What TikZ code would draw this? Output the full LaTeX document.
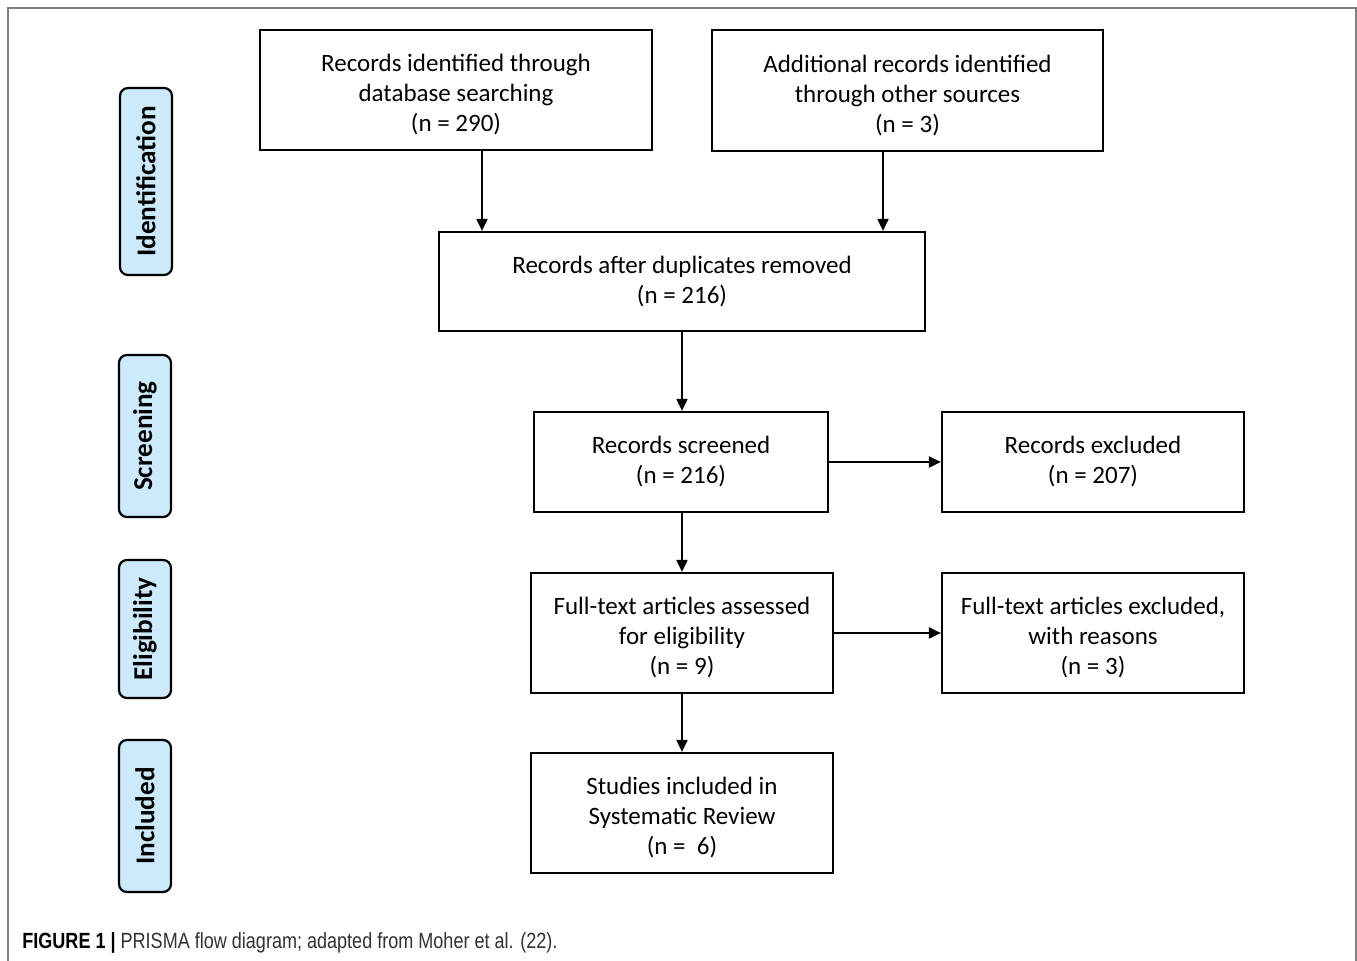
\documentclass[tikz,border=0pt]{standalone}
\usepackage{fontspec}
\setmainfont{Carlito}
\newfontfamily\capfont[FakeStretch=0.82]{Liberation Sans}
\usetikzlibrary{arrows.meta}
\definecolor{phasefill}{RGB}{205,233,252}
\definecolor{capgray}{RGB}{50,50,50}
\newcommand{\toppad}{\rule{0pt}{13.5pt}}
\begin{document}
\begin{tikzpicture}
[x=0.5pt,y=-0.5pt,%
  box/.style={draw,line width=1.1pt,align=center,font=\fontsize{12.5}{15}\selectfont,inner sep=0pt},%
  phase/.style={draw,line width=1.1pt,fill=phasefill,rounded corners=4pt,rotate=90,
    minimum height=26pt,inner sep=0pt,font=\fontsize{13.6}{16}\selectfont\bfseries},%
  arr/.style={-{Triangle[length=6pt,width=5.5pt]},line width=1pt}]
\useasboundingbox (0,0) rectangle (1357,961);
% outer frame
\draw[gray,line width=1pt] (8,961) -- (8,8) -- (1356,8) -- (1356,961);
% phases
\node[phase,minimum width=93.5pt] (ident) at (146,181.5) {Identification};
\node[phase,minimum width=81pt] (screen) at (145,436) {Screening};
\node[phase,minimum width=69pt] (elig) at (145,629) {Eligibility};
\node[phase,minimum width=76pt] (incl) at (145,816) {Included};
% boxes
\node[box,minimum width=196pt,minimum height=60pt] (dbase) at (456,90)
  {\toppad Records identified through\\database searching\\(n = 290)};
\node[box,minimum width=195.5pt,minimum height=60.5pt] (other) at (907.5,90.5)
  {\toppad Additional records identified\\through other sources\\(n = 3)};
\node[box,minimum width=243pt,minimum height=49.5pt] (dupl) at (682,281.5)
  {Records after duplicates removed\\(n = 216)};
\node[box,minimum width=147pt,minimum height=50pt] (scr) at (681,462)
  {Records screened\\(n = 216)};
\node[box,minimum width=151pt,minimum height=50pt] (excl) at (1093,462)
  {Records excluded\\(n = 207)};
\node[box,minimum width=151pt,minimum height=60pt] (full) at (682,633)
  {\toppad Full-text articles assessed\\for eligibility\\(n = 9)};
\node[box,minimum width=151pt,minimum height=60pt] (fexcl) at (1093,633)
  {\toppad Full-text articles excluded,\\with reasons\\(n = 3)};
\node[box,minimum width=151pt,minimum height=60pt] (incd) at (682,813)
  {\toppad Studies included in\\Systematic Review\\(n =\ \ 6)};
% arrows
\draw[arr] ([xshift=13pt]dbase.south) -- ([xshift=13pt]dbase.south |- dupl.north);
\draw[arr] ([xshift=-12.25pt]other.south) -- ([xshift=-12.25pt]other.south |- dupl.north);
\draw[arr] (dupl.south) -- (dupl.south |- scr.north);
\draw[arr] (scr.east) -- (excl.west);
\draw[arr] (scr.south -| full) -- (full.north);
\draw[arr] (full.east) -- (fexcl.west);
\draw[arr] (full.south) -- (incd.north);
% caption
\node[anchor=base west,inner sep=0pt,text=capgray,font=\capfont\fontsize{11}{12}\selectfont] (cap) at (22,949)
  {\textcolor{black}{\textbf{FIGURE 1 |}} PRISMA flow diagram; adapted from Moher et al. (22).};
\end{tikzpicture}
\end{document}
